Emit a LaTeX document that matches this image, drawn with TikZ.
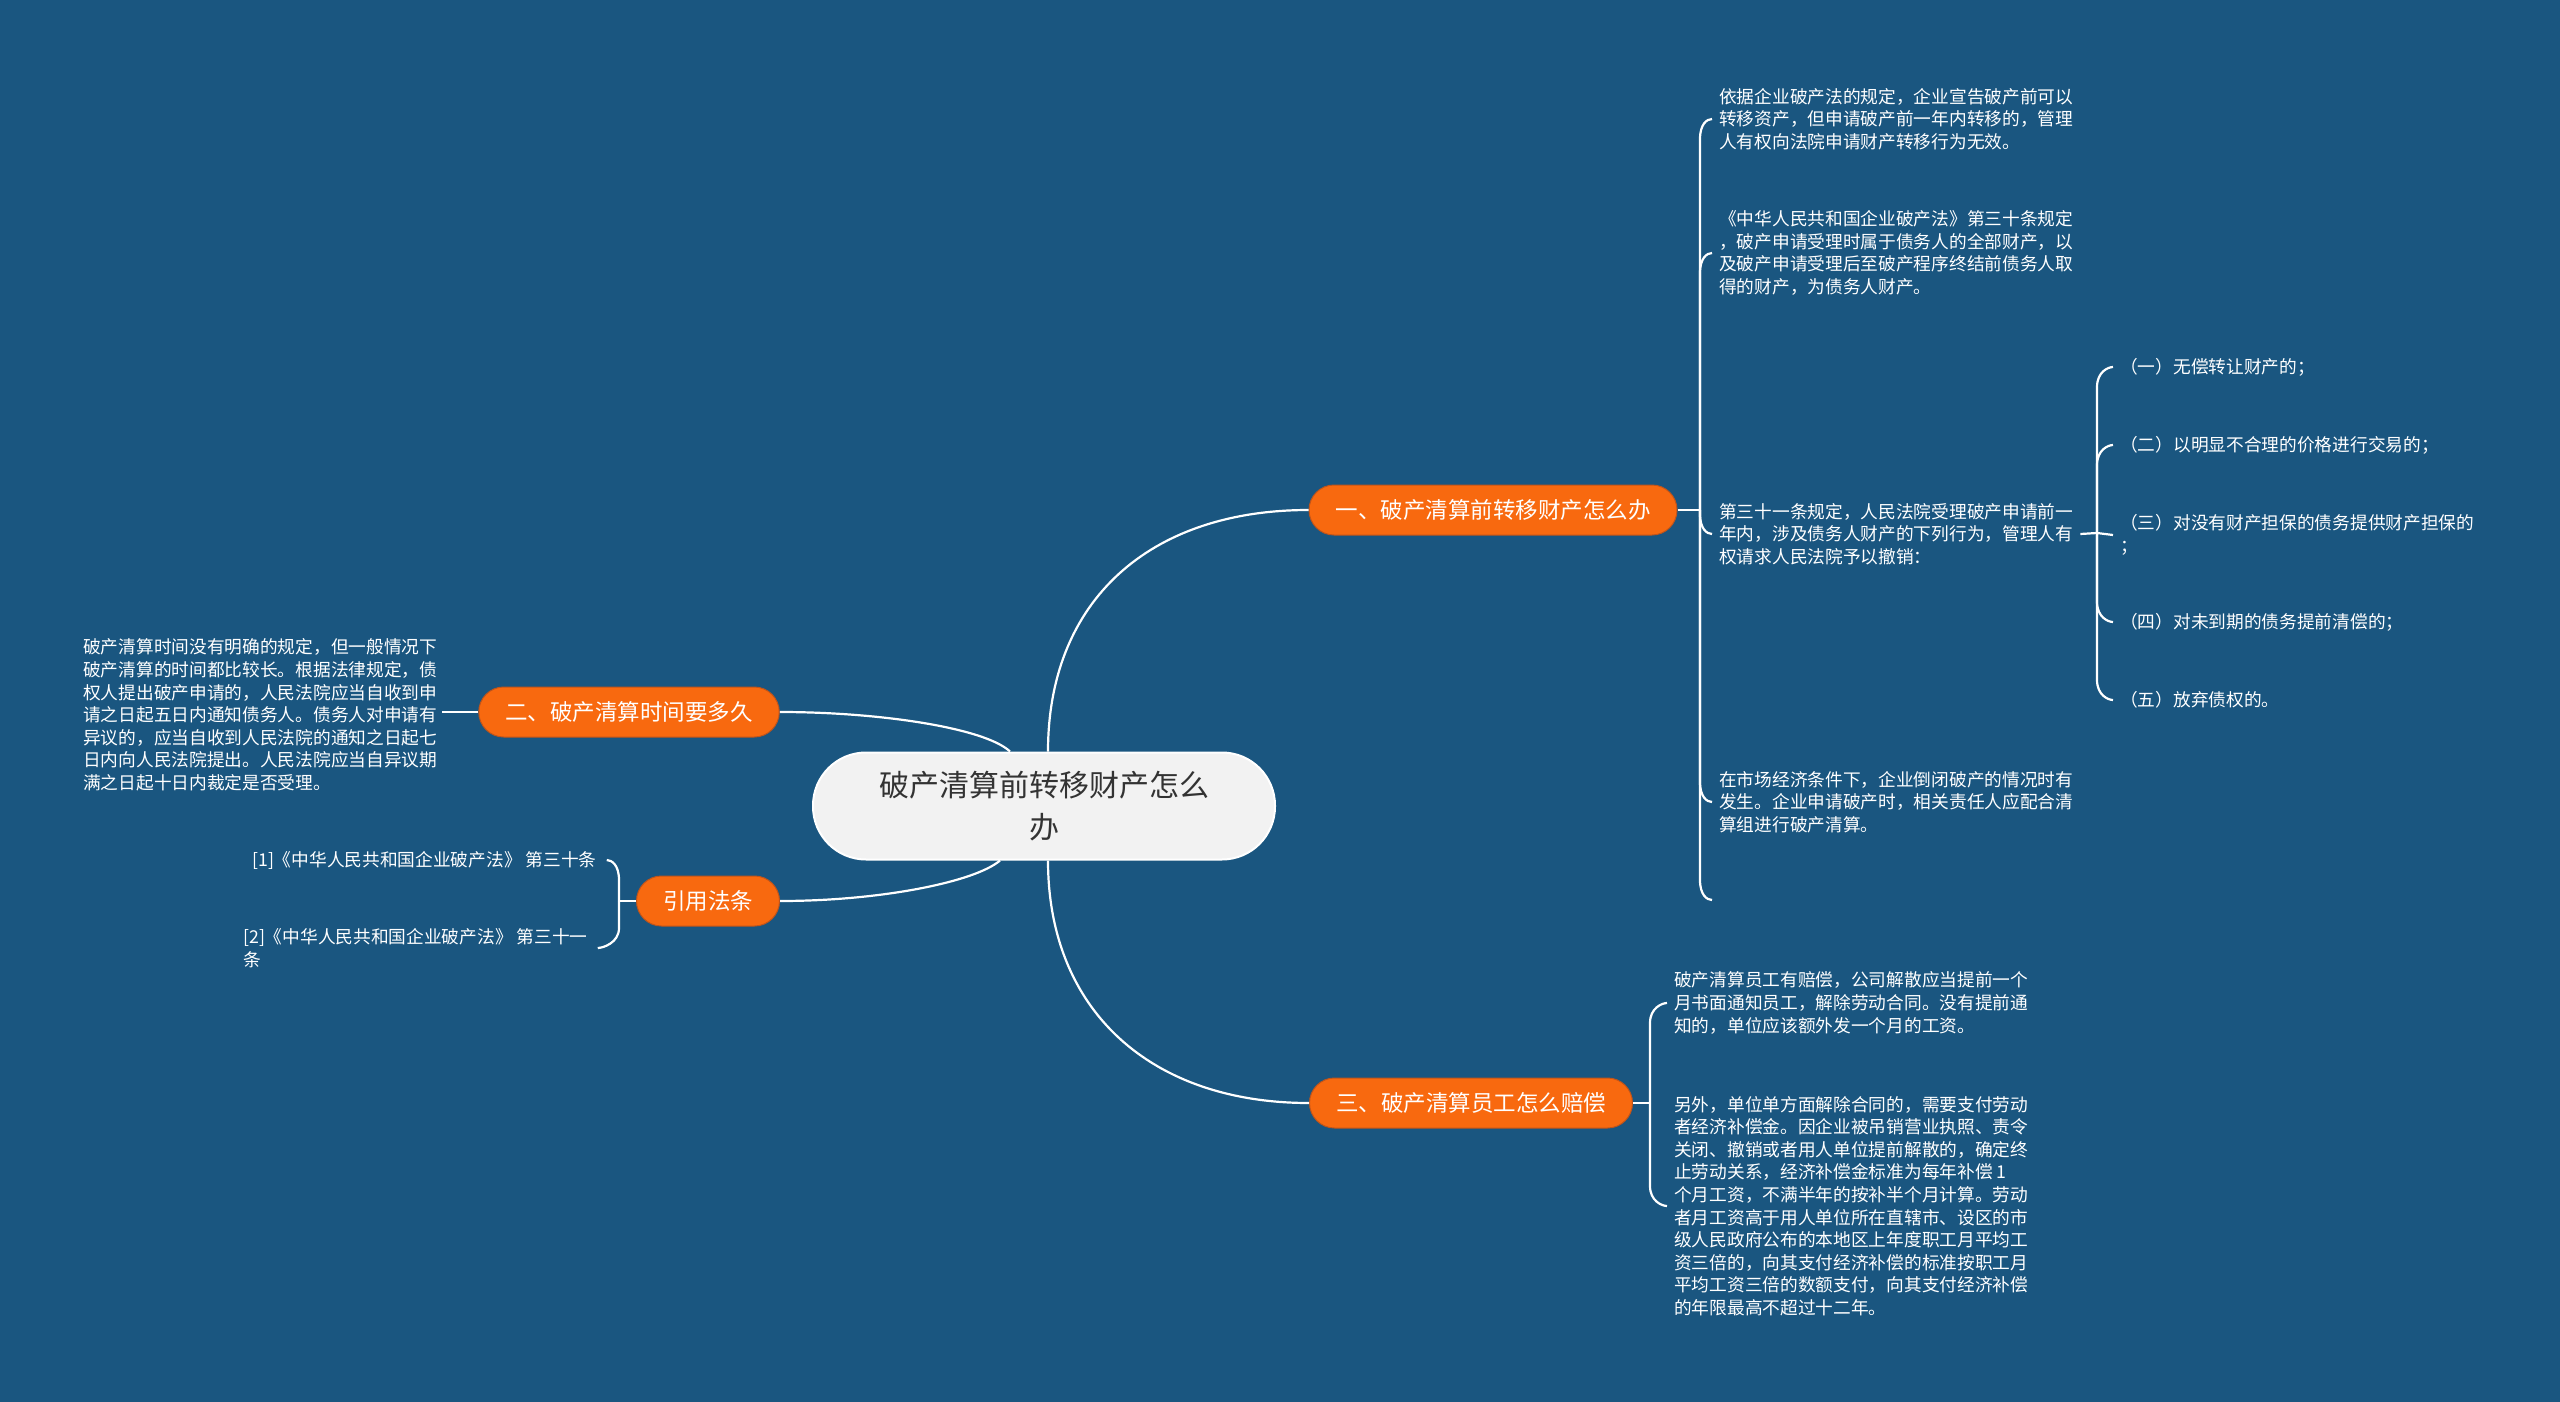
\documentclass[tikz,border=0pt]{standalone}
\usepackage{fontspec}
\setmainfont{Noto Sans CJK SC}
\usetikzlibrary{calc}
\definecolor{bgblue}{HTML}{1A5680}
\definecolor{mmorange}{HTML}{F8690F}
\definecolor{mmorangeline}{HTML}{C0541A}
\definecolor{centerfill}{HTML}{F2F2F2}
\definecolor{centertext}{HTML}{333333}
\newcommand\curlup[2]{\draw[link] (#1) -- ($(#1 |- #2.west)+(0,20)$) .. controls ($(#1 |- #2.west)+(0,5)$) and ($(#2.west)+(-5,0)$) .. (#2.west);}
\newcommand\curldown[2]{\draw[link] (#1) -- ($(#1 |- #2.west)+(0,-20)$) .. controls ($(#1 |- #2.west)+(0,-5)$) and ($(#2.west)+(-5,0)$) .. (#2.west);}
\newcommand\lcurlup[2]{\draw[link] (#1) -- ($(#1 |- #2.east)+(0,20)$) .. controls ($(#1 |- #2.east)+(0,5)$) and ($(#2.east)+(5,0)$) .. (#2.east);}
\newcommand\lcurldown[2]{\draw[link] (#1) -- ($(#1 |- #2.east)+(0,-20)$) .. controls ($(#1 |- #2.east)+(0,-5)$) and ($(#2.east)+(5,0)$) .. (#2.east);}
\begin{document}
\begin{tikzpicture}[x=1pt,y=-1pt,
  link/.style={draw=white, line width=2.2pt},
  centerbox/.style={fill=centerfill, draw=white, line width=2pt, rounded corners=53pt,
    minimum width=462pt, minimum height=107pt, align=center, text=centertext,
    font=\fontsize{30}{42}\selectfont, inner sep=0pt},
  branchbox/.style={fill=mmorange, draw=mmorangeline, line width=1pt, rounded corners=25pt,
    minimum height=50pt, inner xsep=26.5pt, inner ysep=0pt, text=white,
    font=\fontsize{22.5}{27}\selectfont},
  leaf/.style={align=left, inner xsep=7pt, inner ysep=2pt, text=white, anchor=west,
    font=\fontsize{17.7}{22.6}\selectfont}]
\useasboundingbox (0,0) rectangle (2560,1402);
\fill[bgblue] (0,0) rectangle (2560,1402);

% center and branches
\node[centerbox] (c) at (1044,806) {破产清算前转移财产怎么\\办};
\node[branchbox] (b1) at (1493,510) {一、破产清算前转移财产怎么办};
\node[branchbox] (b2) at (629,712) {二、破产清算时间要多久};
\node[branchbox] (b3) at (708,901) {引用法条};
\node[branchbox] (b4) at (1471,1103) {三、破产清算员工怎么赔偿};

\draw[link] ([xshift=4pt]c.north) .. controls (1048,600) and (1150,510) .. (b1.west);
\draw[link] ([xshift=4pt]c.south) .. controls (1048,1010) and (1150,1103) .. (b4.west);
\draw[link] ([xshift=-34pt]c.north) .. controls (985,728) and (880,712) .. (b2.east);
\draw[link] ([xshift=-44pt]c.south) .. controls (975,882) and (880,901) .. (b3.east);

% branch 1 leaves
\node[leaf] (t1) at (1712,119) {依据企业破产法的规定，企业宣告破产前可以\\转移资产，但申请破产前一年内转移的，管理\\人有权向法院申请财产转移行为无效。};
\node[leaf] (t2) at (1712,253) {《中华人民共和国企业破产法》第三十条规定\\，破产申请受理时属于债务人的全部财产，以\\及破产申请受理后至破产程序终结前债务人取\\得的财产，为债务人财产。};
\node[leaf] (t3) at (1712,534) {第三十一条规定，人民法院受理破产申请前一\\年内，涉及债务人财产的下列行为，管理人有\\权请求人民法院予以撤销：};
\node[leaf] (t4) at (1712,802) {在市场经济条件下，企业倒闭破产的情况时有\\发生。企业申请破产时，相关责任人应配合清\\算组进行破产清算。};
\coordinate (j1) at (1700,510);
\coordinate (e1) at (1712,900);
\draw[link] (b1.east) -- (j1);
\curlup{j1}{t1}
\curlup{j1}{t2}
\curldown{j1}{t3}
\curldown{j1}{t4}
\draw[link] (j1) -- (1700,880) .. controls (1700,895) and (1707,900) .. (e1);

% sub items of t3
\node[leaf] (s1) at (2113,367) {（一）无偿转让财产的；};
\node[leaf] (s2) at (2113,445) {（二）以明显不合理的价格进行交易的；};
\node[leaf] (s3) at (2113,535) {（三）对没有财产担保的债务提供财产担保的\\；};
\node[leaf] (s4) at (2113,622) {（四）对未到期的债务提前清偿的；};
\node[leaf] (s5) at (2113,700) {（五）放弃债权的。};
\coordinate (j5) at (2097,533);
\draw[link] (t3.east) -- (j5);
\curlup{j5}{s1}
\curlup{j5}{s2}
\draw[link] (j5) -- (s3.west);
\curldown{j5}{s4}
\curldown{j5}{s5}

% branch 3 (三) leaves
\node[leaf] (r1) at (1667,1003) {破产清算员工有赔偿，公司解散应当提前一个\\月书面通知员工，解除劳动合同。没有提前通\\知的，单位应该额外发一个月的工资。};
\node[leaf] (r2) at (1667,1206) {另外，单位单方面解除合同的，需要支付劳动\\者经济补偿金。因企业被吊销营业执照、责令\\关闭、撤销或者用人单位提前解散的，确定终\\止劳动关系，经济补偿金标准为每年补偿 1\\个月工资，不满半年的按补半个月计算。劳动\\者月工资高于用人单位所在直辖市、设区的市\\级人民政府公布的本地区上年度职工月平均工\\资三倍的，向其支付经济补偿的标准按职工月\\平均工资三倍的数额支付，向其支付经济补偿\\的年限最高不超过十二年。};
\coordinate (j4) at (1650,1103);
\draw[link] (b4.east) -- (j4);
\curlup{j4}{r1}
\curldown{j4}{r2}

% branch 2 leaf
\node[leaf, inner xsep=5pt] (T2) at (78,715) {破产清算时间没有明确的规定，但一般情况下\\破产清算的时间都比较长。根据法律规定，债\\权人提出破产申请的，人民法院应当自收到申\\请之日起五日内通知债务人。债务人对申请有\\异议的，应当自收到人民法院的通知之日起七\\日内向人民法院提出。人民法院应当自异议期\\满之日起十日内裁定是否受理。};
\draw[link] (b2.west) -- (b2.west -| T2.east);

% references
\node[leaf, inner xsep=10pt] (L1) at (242,860) {[1]《中华人民共和国企业破产法》 第三十条};
\node[leaf, inner xsep=10pt] (L2) at (233,948) {[2]《中华人民共和国企业破产法》 第三十一\\条};
\coordinate (j3) at (619,901);
\draw[link] (b3.west) -- (j3);
\lcurlup{j3}{L1}
\lcurldown{j3}{L2}
\end{tikzpicture}
\end{document}
